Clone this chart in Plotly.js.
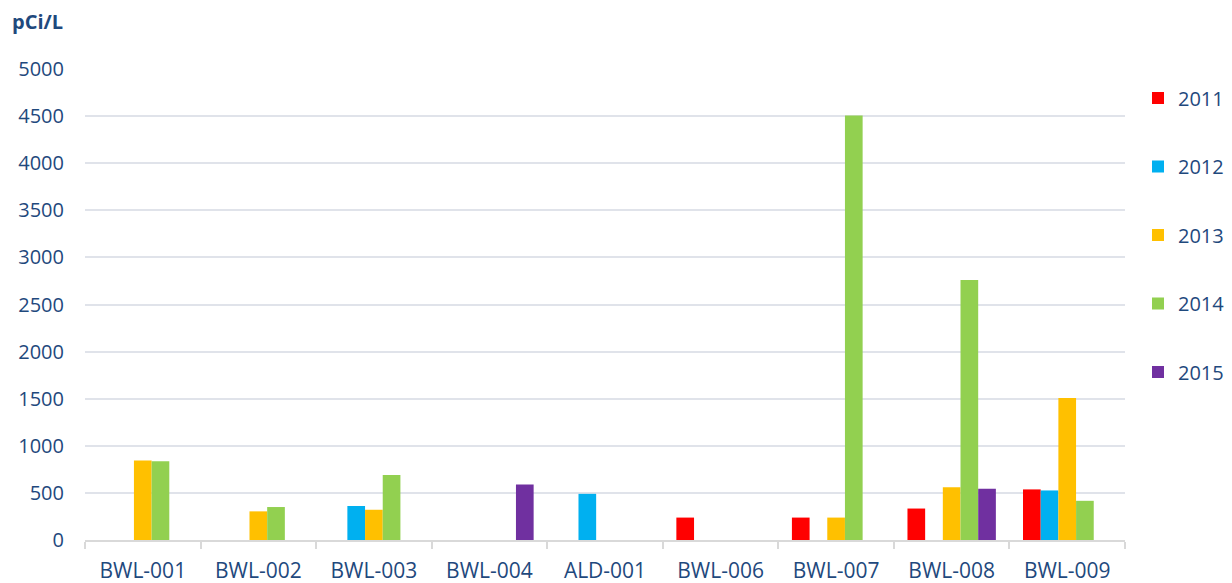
<!DOCTYPE html>
<html>
<head>
<meta charset="utf-8">
<script src="https://cdn.plot.ly/plotly-3.0.1.min.js"></script>
<style>html,body{margin:0;padding:0;background:#fff;}#chart{width:1232px;height:583px;}</style>
</head>
<body>
<div id="chart"></div>
<script>
const categories = ["BWL-001","BWL-002","BWL-003","BWL-004","ALD-001","BWL-006","BWL-007","BWL-008","BWL-009"];
const years = ["2011","2012","2013","2014","2015"];
const v2011 = [null, null, null, null, null, 238, 238, 334, 537];
const v2012 = [null, null, 361, null, 490, null, null, null, 526];
const v2013 = [843, 304, 321, null, null, null, 238, 561, 1507];
const v2014 = [836, 350, 689, null, null, null, 4507, 2759, 416];
const v2015 = [null, null, null, 589, null, null, null, 544, null];
const yTicks = [0,500,1000,1500,2000,2500,3000,3500,4000,4500,5000];
const colors = ["#FF0000","#00B0F0","#FFC000","#92D050","#7030A0"];
const series = [v2011, v2012, v2013, v2014, v2015];

const textColor = "#1F497D";
const font = "Open Sans, Liberation Sans, sans-serif";

const traces = series.map((vals, i) => ({
  type: "bar",
  name: years[i],
  legendgroup: years[i],
  x: categories,
  y: vals,
  marker: {color: colors[i], line: {width: 0}},
  hoverinfo: "x+y+name"
}));

// plot area: left 85px, right 1125px
const mR = 2;
const plotW = 1232 - 85 - mR;
const layout = {
  width: 1232, height: 583,
  margin: {l: 85, r: mR, t: 69, b: 43},
  paper_bgcolor: "#fff", plot_bgcolor: "#fff",
  barmode: "group",
  bargap: 0.235,
  bargroupgap: 0,
  font: {family: font, color: textColor, size: 20},
  xaxis: {
    type: "category",
    domain: [0, (1125 - 85) / plotW],
    tickson: "boundaries",
    ticks: "outside", ticklen: 7, tickcolor: "#D9D9D9", tickwidth: 1.5,
    showline: true, linecolor: "#D9D9D9", linewidth: 1.5,
    showgrid: false,
    ticklabelstandoff: 11,
    tickfont: {family: font, color: textColor, size: 21}
  },
  yaxis: {
    range: [0, 5000],
    tickvals: yTicks,
    ticktext: yTicks.map(String),
    showgrid: true, gridcolor: "#E0E3EA", gridwidth: 1.5,
    zeroline: false,
    showline: false,
    ticks: "",
    ticklabelstandoff: 20,
    tickfont: {family: font, color: textColor, size: 20}
  },
  legend: {
    x: 1, y: 0.98, xanchor: "right", yanchor: "top",
    tracegroupgap: 39.5,
    traceorder: "grouped",
    itemwidth: 30,
    font: {family: font, color: textColor, size: 20},
    bgcolor: "rgba(0,0,0,0)"
  },
  annotations: [{
    text: "<b>pCi/L</b>",
    xref: "paper", yref: "paper",
    x: (10 - 85) / plotW, y: 1.0, xanchor: "left", yanchor: "bottom",
    yshift: 32,
    showarrow: false,
    font: {family: font, color: textColor, size: 20}
  }],
  showlegend: true
};

Plotly.newPlot("chart", traces, layout, {displayModeBar: false});
</script>
</body>
</html>
